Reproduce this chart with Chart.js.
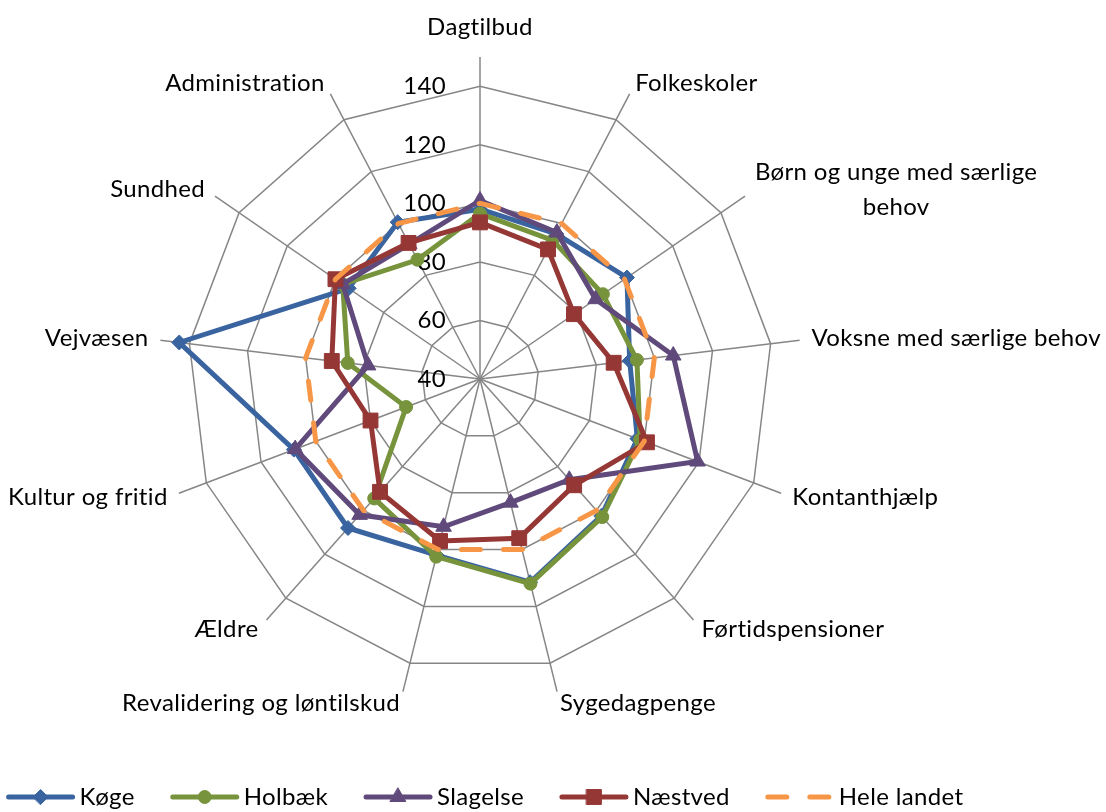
<!DOCTYPE html>
<html lang="da">
<head>
<meta charset="utf-8">
<title>Udgiftsniveau pr. område</title>
<script src="https://cdn.jsdelivr.net/npm/chart.js@4.4.1/dist/chart.umd.min.js"></script>
<style>
    html, body { margin: 0; padding: 0; background: #ffffff; }
    .chart-wrap { position: relative; width: 1106px; height: 812px; }
</style>
</head>
<body>
<div class="chart-wrap"><canvas id="radar-chart"></canvas></div>
<script>
const categories = [
    "Dagtilbud", "Folkeskoler", ["Børn og unge med særlige", "behov"], "Voksne med særlige behov",
    "Kontanthjælp", "Førtidspensioner", "Sygedagpenge", "Revalidering og løntilskud",
    "Ældre", "Kultur og fritid", "Vejvæsen", "Sundhed", "Administration"
];
const koege = [98, 96, 101, 91.5, 97.5, 102.5, 111.5, 102, 108, 108, 143.5, 94.5, 100.5];
const holbaek = [96.5, 93.5, 91, 94, 98.5, 103, 112, 102.5, 94.5, 67, 85.5, 97, 86];
const slagelse = [101, 96.5, 88, 106.5, 119.5, 86, 83.5, 92, 102, 107.5, 78.5, 97, 92];
const naestved = [93.5, 90, 79, 86, 101, 88.5, 96, 97, 91.5, 80, 91, 100, 92.5];
const heleLandet = [100, 100, 100, 100, 100, 100, 100, 100, 100, 100, 100, 100, 100];
const tickValues = [40, 60, 80, 100, 120, 140];
const axisMin = 40;
const axisMax = 150;

const fontFamily = "Lato, 'Noto Sans', sans-serif";
const fontSize = 24;
const gridColor = "#868686";

function lineDataset(label, data, color, pointStyle, pointRadius, order) {
    return {
        label, data, order, pointStyle, pointRadius,
        borderColor: color, backgroundColor: color,
        pointBackgroundColor: color, pointBorderColor: color,
        borderWidth: 5, pointBorderWidth: 1, pointHoverRadius: pointRadius,
        fill: false
    };
}

// letter spacing keeps Lato from joining "ti" into a ligature
function setFont(ctx) {
    ctx.font = `${fontSize}px ${fontFamily}`;
    ctx.letterSpacing = "0.35px";
}

// tick numbers sit left of the top spoke, category names just outside the spoke ends
const axisText = {
    id: "axisText",
    beforeDatasetsDraw(chart) {
        const scale = chart.scales.r;
        const ctx = chart.ctx;
        ctx.save();
        ctx.fillStyle = "#000000";
        setFont(ctx);
        ctx.textAlign = "right";
        ctx.textBaseline = "middle";
        scale.ticks.forEach((tick) => {
            const y = scale.yCenter - scale.getDistanceFromCenterForValue(tick.value);
            ctx.fillText(String(tick.value), scale.xCenter - 34, y);
        });

        const distance = scale.getDistanceFromCenterForValue(scale.max) + 12;
        const lineHeight = 35;
        chart.data.labels.forEach((label, index) => {
            const pos = scale.getPointPosition(index, distance);
            const lines = Array.isArray(label) ? label : [label];
            const widths = lines.map((line) => ctx.measureText(line).width);
            const blockWidth = Math.max(...widths);
            const dx = pos.x - scale.xCenter;
            let left;
            let top;
            if (Math.abs(dx) < 2) {
                left = pos.x - blockWidth / 2;
                top = pos.y - lines.length * lineHeight;
            } else {
                left = dx > 0 ? pos.x : pos.x - blockWidth;
                top = pos.y - lines.length * lineHeight / 2;
            }
            ctx.textAlign = "center";
            lines.forEach((line, i) => {
                ctx.fillText(line, left + blockWidth / 2, top + lineHeight * (i + 0.5));
            });
        });
        ctx.restore();
    }
};

const bottomLegend = {
    id: "bottomLegend",
    afterDraw(chart) {
        const ctx = chart.ctx;
        const scale = chart.scales.r;
        const y = 797;
        const lineLength = 68;
        const textGap = 5;
        const itemGap = 36;
        ctx.save();
        setFont(ctx);
        const datasets = chart.data.datasets;
        const textWidths = datasets.map((dataset) => ctx.measureText(dataset.label).width);
        const total = textWidths.reduce((sum, w) => sum + w + lineLength + textGap, 0) + itemGap * (datasets.length - 1);
        let x = scale.xCenter + 5 - total / 2;

        datasets.forEach((dataset, i) => {
            ctx.strokeStyle = dataset.borderColor;
            ctx.lineWidth = dataset.borderWidth;
            ctx.lineCap = "round";
            ctx.setLineDash(dataset.borderDash || []);
            ctx.beginPath();
            ctx.moveTo(x + 2, y);
            ctx.lineTo(x + lineLength - 2, y);
            ctx.stroke();
            ctx.setLineDash([]);
            if (dataset.pointRadius > 0) {
                ctx.fillStyle = dataset.pointBackgroundColor;
                ctx.lineWidth = 1;
                Chart.helpers.drawPoint(ctx, { pointStyle: dataset.pointStyle, radius: dataset.pointRadius, borderWidth: 1, rotation: 0 }, x + lineLength / 2, y);
            }
            ctx.fillStyle = "#000000";
            ctx.textAlign = "left";
            ctx.textBaseline = "middle";
            ctx.fillText(dataset.label, x + lineLength + textGap, y);
            x += lineLength + textGap + textWidths[i] + itemGap;
        });
        ctx.restore();
    }
};

const heleLandetSeries = lineDataset("Hele landet", heleLandet, "#f79646", "circle", 0, 1);
heleLandetSeries.borderDash = [19, 23];
heleLandetSeries.borderCapStyle = "round";

new Chart(document.querySelector("#radar-chart"), {
    type: "radar",
    data: {
        labels: categories,
        datasets: [
            lineDataset("Køge", koege, "#3a64a0", "rectRot", 7.5, 5),
            lineDataset("Holbæk", holbaek, "#77933c", "circle", 6.5, 4),
            lineDataset("Slagelse", slagelse, "#604a7b", "triangle", 9, 3),
            lineDataset("Næstved", naestved, "#953735", "rect", 10.5, 2),
            heleLandetSeries
        ]
    },
    options: {
        responsive: true,
        maintainAspectRatio: false,
        animation: false,
        layout: { padding: { left: 158, right: 304, top: 57, bottom: 111 } },
        plugins: { legend: { display: false }, tooltip: { enabled: false } },
        scales: {
            r: {
                min: axisMin,
                max: axisMax,
                afterBuildTicks: (scale) => { scale.ticks = tickValues.map((value) => ({ value })); },
                ticks: { display: false },
                pointLabels: { display: false },
                grid: { color: gridColor, lineWidth: 1.5 },
                angleLines: { color: gridColor, lineWidth: 1.5 }
            }
        }
    },
    plugins: [axisText, bottomLegend]
});
</script>
</body>
</html>
